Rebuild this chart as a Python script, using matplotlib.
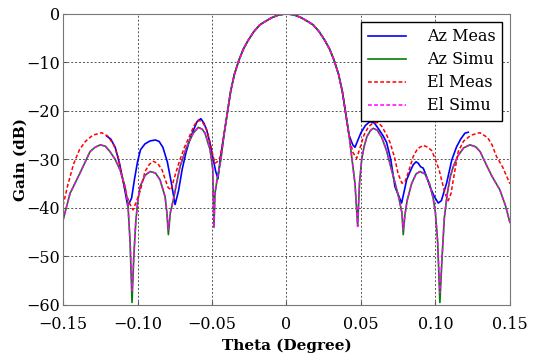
import numpy as np
import matplotlib.pyplot as plt

# main lobe (common to all four curves)
main_theta = [-0.042, -0.0395, -0.0375, -0.035, -0.032, -0.029, -0.026, -0.022, -0.018, -0.015, -0.01, -0.005, 0,
              0.005, 0.01, 0.015, 0.018, 0.022, 0.026, 0.029, 0.032, 0.035, 0.0375, 0.0395, 0.042]
main_db = [-25, -20, -16, -12.5, -9.6, -7.3, -5.6, -3.7, -2.3, -1.7, -0.8, -0.2, 0,
           -0.2, -0.8, -1.7, -2.3, -3.7, -5.6, -7.3, -9.6, -12.5, -16, -20, -25]

# Az Meas
azm_left_t = [-0.1207, -0.118, -0.115, -0.112, -0.109, -0.1066, -0.104, -0.102, -0.100, -0.098, -0.095, -0.0916,
              -0.088, -0.0855, -0.083, -0.080, -0.0772, -0.0748, -0.0725, -0.0700, -0.0674, -0.0650, -0.0625,
              -0.0600, -0.0575, -0.0555, -0.0535, -0.0515, -0.0495, -0.0475, -0.046, -0.0445]
azm_left_db = [-25.2, -25.8, -27.5, -31, -35.5, -39.6, -38, -34, -30.5, -28, -26.8, -26.2,
               -26, -26.3, -27.5, -30.5, -35, -39.3, -36.5, -32, -28.5, -26, -24,
               -22.2, -21.6, -22.5, -24, -26.5, -29.5, -32.5, -34, -30]
azm_right_t = [0.0445, 0.046, 0.048, 0.050, 0.053, 0.056, 0.059, 0.062, 0.065, 0.0672, 0.070, 0.0728, 0.0773,
               0.0807, 0.083, 0.0851, 0.087, 0.0885, 0.090, 0.0918, 0.094, 0.0963, 0.099, 0.1019, 0.104, 0.1075,
               0.111, 0.1142, 0.117, 0.1198, 0.122]
azm_right_db = [-27, -27.5, -26, -24.5, -23, -22.2, -22.5, -23.8, -25.2, -26.5, -30, -35.6, -39,
                -34.2, -32.5, -31.1, -30.5, -30.8, -31.5, -31.8, -33.5, -35.6, -37.5, -39, -38.5, -34.9,
                -30.1, -27.4, -25.8, -24.6, -24.4]

# El Meas
elm_left_t = [-0.15, -0.147, -0.143, -0.139, -0.135, -0.13, -0.124, -0.12, -0.116, -0.113, -0.1105, -0.1083,
              -0.1055, -0.103, -0.1005, -0.098, -0.095, -0.092, -0.0894, -0.0865, -0.0835, -0.081, -0.0795,
              -0.0775, -0.0755, -0.072, -0.0685, -0.0648, -0.062, -0.0592, -0.0565, -0.054, -0.0513, -0.0495,
              -0.048, -0.0465, -0.0445]
elm_left_db = [-39.5, -35.5, -31, -28, -26.3, -25, -24.5, -25.2, -27, -29.5, -33.5, -36.5,
               -39, -40.4, -38.5, -36.3, -32.5, -31, -30.4, -30.8, -32.2, -34.5, -35.8,
               -36.3, -34, -30.5, -27.5, -25, -23, -21.9, -22.3, -23.5, -26.5, -29,
               -30.8, -30.5, -29.5]
elm_right_t = [0.0445, 0.0471, 0.049, 0.052, 0.055, 0.058, 0.0616, 0.064, 0.067, 0.0695, 0.0725, 0.075, 0.0775,
               0.0795, 0.082, 0.0851, 0.088, 0.0918, 0.095, 0.0975, 0.1, 0.1025, 0.1064, 0.1086, 0.1105, 0.112,
               0.1153, 0.119, 0.124, 0.1299, 0.135, 0.138, 0.141, 0.145, 0.15]
elm_right_db = [-28.5, -29.8, -28, -25, -23.3, -22.5, -22.4, -23.2, -24.8, -26.5, -29.5, -33, -34.9,
                -34.7, -32.5, -29.4, -27.8, -27.1, -27.5, -28.2, -30, -32.2, -37, -38.5, -37, -34.2,
                -28.4, -26.2, -25, -24.5, -25.5, -27, -29.4, -31.5, -35]

# Simulation (Az and El nearly identical, nulls differ)
sim_left_t = [-0.15, -0.1453, -0.1386, -0.1319, -0.1285, -0.125, -0.1215, -0.1185, -0.115, -0.1117, -0.1084,
              -0.1065, -0.105, -0.1037, -0.1025, -0.1012, -0.1, -0.0983, -0.095, -0.0916, -0.088, -0.0849,
              -0.0815, -0.0803, -0.0793, -0.078, -0.076, -0.0735, -0.0715, -0.067, -0.0626, -0.0592, -0.0565,
              -0.0547, -0.0513, -0.0495, -0.0487, -0.048, -0.0465, -0.044]
azs_left_db = [-42.5, -37, -32.8, -28.4, -27.5, -27, -27.3, -28.4, -30, -32.2, -35.6,
               -39, -47, -59.5, -50, -43, -39, -35.6, -33.3, -32.5, -32.8, -34.2,
               -37.7, -41, -45.5, -41, -38.4, -34.5, -31.5, -27.4, -24.6, -23.4, -23.8,
               -24.6, -28, -32, -44, -37, -34, -30]
els_left_db = [-42.5, -37, -32.8, -28.4, -27.5, -27, -27.3, -28.4, -30, -32.2, -35.6,
               -39, -47, -57, -50, -43, -39, -35.6, -33.3, -32.5, -32.8, -34.2,
               -37.7, -41, -44.5, -41, -38.4, -34.5, -31.5, -27.4, -24.6, -23.4, -23.8,
               -24.6, -28, -32, -44, -37, -34, -30]
sim_right_t = [0.044, 0.046, 0.0478, 0.049, 0.0505, 0.052, 0.054, 0.0565, 0.0583, 0.061, 0.064, 0.067, 0.07,
               0.073, 0.0755, 0.0775, 0.0784, 0.0795, 0.081, 0.084, 0.087, 0.0896, 0.093, 0.096, 0.0985, 0.1,
               0.1015, 0.103, 0.1045, 0.106, 0.108, 0.11, 0.112, 0.115, 0.119, 0.1232, 0.127, 0.13, 0.134,
               0.138, 0.1433, 0.147, 0.15]
azs_right_db = [-30, -35, -43.8, -35, -30, -27.5, -25.3, -24, -23.6, -24, -25.5, -28, -31.5,
                -35, -38, -41, -45.5, -41.5, -38.5, -35, -33, -32.5, -33, -35, -38, -41,
                -47, -59.5, -50, -42, -37, -33.5, -31.5, -29.3, -27.6, -27, -27.4, -28.4, -31,
                -33.5, -36.3, -39.5, -43]
els_right_db = [-30, -35, -43.8, -35, -30, -27.5, -25.3, -24, -23.6, -24, -25.5, -28, -31.5,
                -35, -38, -41, -44.5, -41.5, -38.5, -35, -33, -32.5, -33, -35, -38, -41,
                -47, -57.5, -50, -42, -37, -33.5, -31.5, -29.3, -27.6, -27, -27.4, -28.4, -31,
                -33.5, -36.3, -39.5, -43]

xticks = [-0.15, -0.10, -0.05, 0, 0.05, 0.10, 0.15]
xtick_labels = ['\u22120.15', '\u22120.10', '\u22120.05', '0', '0.05', '0.10', '0.15']
yticks = [0, -10, -20, -30, -40, -50, -60]


def join(lt, ld, rt, rd):
    return np.concatenate([lt, main_theta, rt]), np.concatenate([ld, main_db, rd])


fig = plt.figure(figsize=(5.39, 3.55), dpi=100)
ax = fig.add_axes([0.117, 0.141, 0.829, 0.82])

t, d = join(azm_left_t, azm_left_db, azm_right_t, azm_right_db)
ax.plot(t, d, color='blue', lw=1.2, label='Az Meas')
t, d = join(sim_left_t, azs_left_db, sim_right_t, azs_right_db)
ax.plot(t, d, color='green', lw=1.2, label='Az Simu')
t, d = join(elm_left_t, elm_left_db, elm_right_t, elm_right_db)
ax.plot(t, d, color='red', lw=1.1, ls=(0, (2.5, 1.5)), label='El Meas')
t, d = join(sim_left_t, els_left_db, sim_right_t, els_right_db)
ax.plot(t, d, color='magenta', lw=1.1, ls=(0, (2.5, 1.5)), label='El Simu')

ax.set_xlim(-0.15, 0.15)
ax.set_ylim(-60, 0)
ax.set_xticks(xticks)
ax.set_xticklabels(xtick_labels, fontfamily='DejaVu Serif', fontsize=11.5)
ax.set_yticks(yticks)
ax.set_yticklabels(['0' if v == 0 else '\u2212%d' % -v for v in yticks], fontfamily='DejaVu Serif', fontsize=11.5)
ax.tick_params(direction='in', length=3, color='#555555')
ax.tick_params(axis='x', pad=8)
ax.tick_params(axis='y', pad=2)
for s in ax.spines.values():
    s.set_color('#777777')
ax.grid(True, ls=(0, (2, 2)), color='#555555', lw=0.7)

ax.set_xlabel('Theta (Degree)', fontfamily='DejaVu Serif', fontweight='bold', fontsize=11, labelpad=4)
ax.set_ylabel('Gain (dB)', fontfamily='DejaVu Serif', fontweight='bold', fontsize=11)
ax.yaxis.set_label_coords(-0.08, 0.5)

leg = ax.legend(loc='upper right', fancybox=False, framealpha=1, edgecolor='black',
                prop={'family': 'DejaVu Serif', 'size': 11.5}, handlelength=2.4, handletextpad=1.3,
                labelspacing=0.38, borderaxespad=0.5)
leg.get_frame().set_linewidth(1.0)

fig.savefig('out.png', dpi=100)
